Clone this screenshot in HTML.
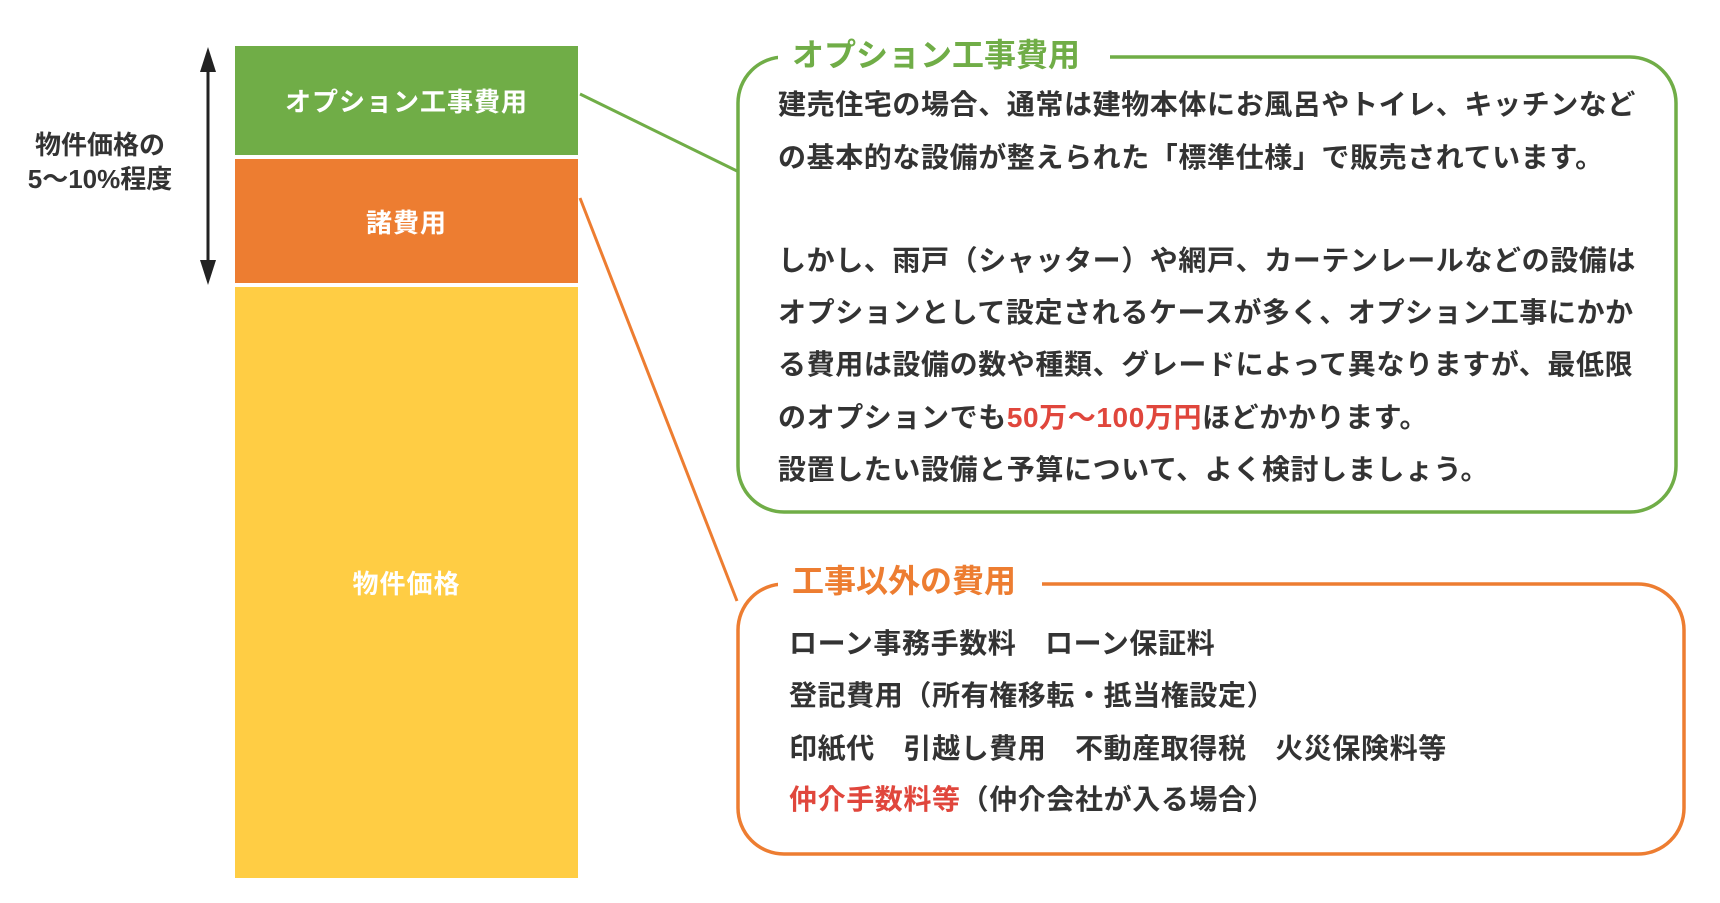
<!DOCTYPE html>
<html><head><meta charset="utf-8"><style>
body{margin:0;width:1720px;height:903px;background:#fff;position:relative;overflow:hidden;font-family:"Liberation Sans","Noto Sans CJK JP",sans-serif;font-weight:bold;}
.a{position:absolute;white-space:nowrap;}
.blk{position:absolute;left:235px;width:343px;color:#fff;font-size:26px;display:flex;align-items:center;justify-content:center;letter-spacing:1px;}
.t{position:absolute;left:778px;font-size:28px;color:#333;letter-spacing:0.6px;line-height:34px;white-space:nowrap;}
.o{left:789px;}
.r{color:#e0463c;}
</style></head><body>
<div class="blk" style="top:46px;height:109px;background:#70ad47;">オプション工事費用</div>
<div class="blk" style="top:159px;height:124px;background:#ed7d31;">諸費用</div>
<div class="blk" style="top:287px;height:591px;background:#ffcd44;">物件価格</div>

<svg class="a" style="left:0;top:0" width="1720" height="903">
<line x1="208" y1="62" x2="208" y2="270" stroke="#222" stroke-width="3"/>
<polygon points="208,47 200,72 216,72" fill="#222"/>
<polygon points="208,285 200,260 216,260" fill="#222"/>
<line x1="580" y1="94" x2="737" y2="171" stroke="#70ad47" stroke-width="3"/>
<line x1="580" y1="198" x2="737" y2="601" stroke="#ed7d31" stroke-width="3"/>
<rect x="738" y="57" width="938" height="455" rx="46" fill="none" stroke="#70ad47" stroke-width="3.5"/>
<rect x="738" y="584" width="946" height="270" rx="46" fill="none" stroke="#ed7d31" stroke-width="3.5"/>
<rect x="778" y="40" width="332" height="40" fill="#fff"/>
<rect x="778" y="565" width="264" height="40" fill="#fff"/>
</svg>

<div class="a" style="left:15px;top:128px;width:170px;text-align:center;font-size:26px;color:#333;line-height:34px;">物件価格の<br>5〜10%程度</div>

<div class="a" style="left:792px;top:36px;font-size:32px;color:#70ad47;line-height:38px;">オプション工事費用</div>
<div class="a" style="left:792px;top:562px;font-size:32px;color:#ed7d31;line-height:38px;">工事以外の費用</div>

<div class="t" style="top:88px">建売住宅の場合、通常は建物本体にお風呂やトイレ、キッチンなど</div>
<div class="t" style="top:141px">の基本的な設備が整えられた「標準仕様」で販売されています。</div>
<div class="t" style="top:244px">しかし、雨戸（シャッター）や網戸、カーテンレールなどの設備は</div>
<div class="t" style="top:296px">オプションとして設定されるケースが多く、オプション工事にかか</div>
<div class="t" style="top:348px">る費用は設備の数や種類、グレードによって異なりますが、最低限</div>
<div class="t" style="top:401px">のオプションでも<span class="r">50万〜100万円</span>ほどかかります。</div>
<div class="t" style="top:453px">設置したい設備と予算について、よく検討しましょう。</div>

<div class="t o" style="top:627px">ローン事務手数料　ローン保証料</div>
<div class="t o" style="top:679px">登記費用（所有権移転・抵当権設定）</div>
<div class="t o" style="top:732px">印紙代　引越し費用　不動産取得税　火災保険料等</div>
<div class="t o" style="top:783px"><span class="r">仲介手数料等</span>（仲介会社が入る場合）</div>
</body></html>
